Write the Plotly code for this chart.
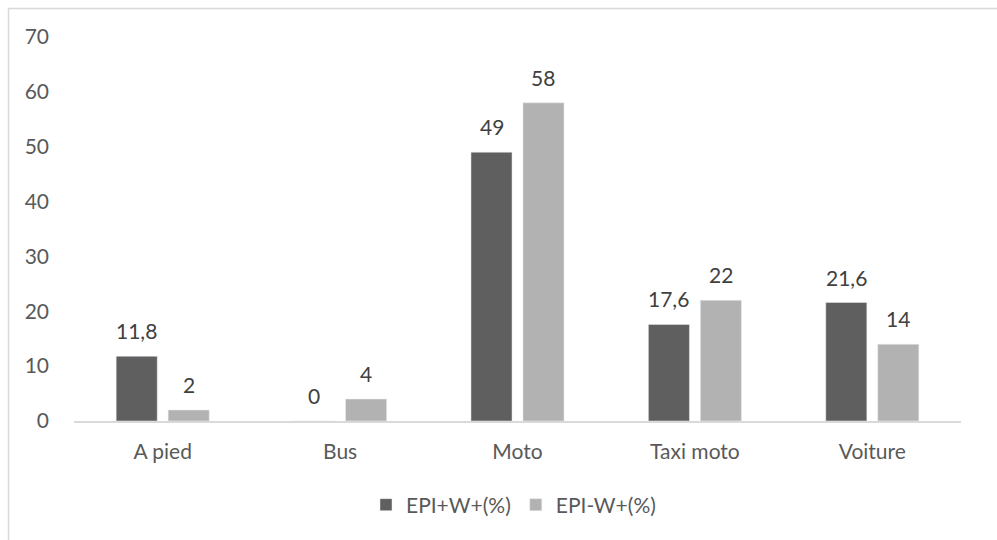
import plotly.graph_objects as go

categories = ["A pied", "Bus", "Moto", "Taxi moto", "Voiture"]
series1_name = "EPI+W+(%)"
series1 = [11.8, 0, 49, 17.6, 21.6]
series2_name = "EPI-W+(%)"
series2 = [2, 4, 58, 22, 14]
y_ticks = [0, 10, 20, 30, 40, 50, 60, 70]


def fmt(v):
    return ("%g" % v).replace(".", ",")


font_family = "Lato, Open Sans, sans-serif"
txt_color = "#595959"
lbl_color = "#404040"
FS = 21

fig = go.Figure()
fig.add_trace(go.Bar(x=categories, y=series1, name=series1_name,
                     marker_color="#5f5f5f", cliponaxis=False))
fig.add_trace(go.Bar(x=categories, y=series2, name=series2_name,
                     marker_color="#b2b2b2", cliponaxis=False))

L, R, T, B = 74, 36, 37, 119
W, H = 997, 540
pw, ph = W - L - R, H - T - B
cat_w = pw / len(categories)
bargap = 0.414
bargroupgap = 0.21
slot = cat_w * (1 - bargap) / 2


def px2x(px):
    return (px - L) / pw


def py2y(py):
    return (H - B - py) / ph


# data labels above bars
for vals, sign in ((series1, -1), (series2, 1)):
    for c, v in zip(categories, vals):
        fig.add_annotation(x=c, y=v, text=fmt(v), showarrow=False,
                           xref="x", yref="y", xanchor="center", yanchor="bottom",
                           xshift=sign * slot / 2, yshift=11,
                           font=dict(size=FS, color=lbl_color, family=font_family))

fig.add_shape(type="rect", xref="paper", yref="paper",
              x0=px2x(8.5), x1=px2x(1005), y0=py2y(548), y1=py2y(8.5),
              line=dict(color="#d9d9d9", width=1.5), layer="below")

fig.update_layout(
    width=W, height=H,
    margin=dict(l=L, r=R, t=T, b=B),
    paper_bgcolor="white", plot_bgcolor="white",
    barmode="group", bargap=bargap, bargroupgap=bargroupgap,
    font=dict(family=font_family, size=FS, color=txt_color),
    showlegend=True,
    legend=dict(orientation="h", x=px2x(366), xanchor="left", y=py2y(505), yanchor="middle",
                font=dict(size=FS, color=txt_color), itemwidth=30, traceorder="normal",
                bgcolor="rgba(0,0,0,0)"),
)
fig.update_xaxes(showline=True, linecolor="#d9d9d9", linewidth=1.5, showgrid=False,
                 ticks="", ticklabelstandoff=11, tickfont=dict(size=FS, color=txt_color))
fig.update_yaxes(range=[0, 70], tickvals=y_ticks, showgrid=False, zeroline=False,
                 showline=False, ticks="", ticklabelstandoff=24,
                 tickfont=dict(size=FS, color=txt_color))

fig.write_html("out.html", config={"displayModeBar": False},
               post_script="document.body.style.margin='0';document.body.style.overflow='hidden';")
